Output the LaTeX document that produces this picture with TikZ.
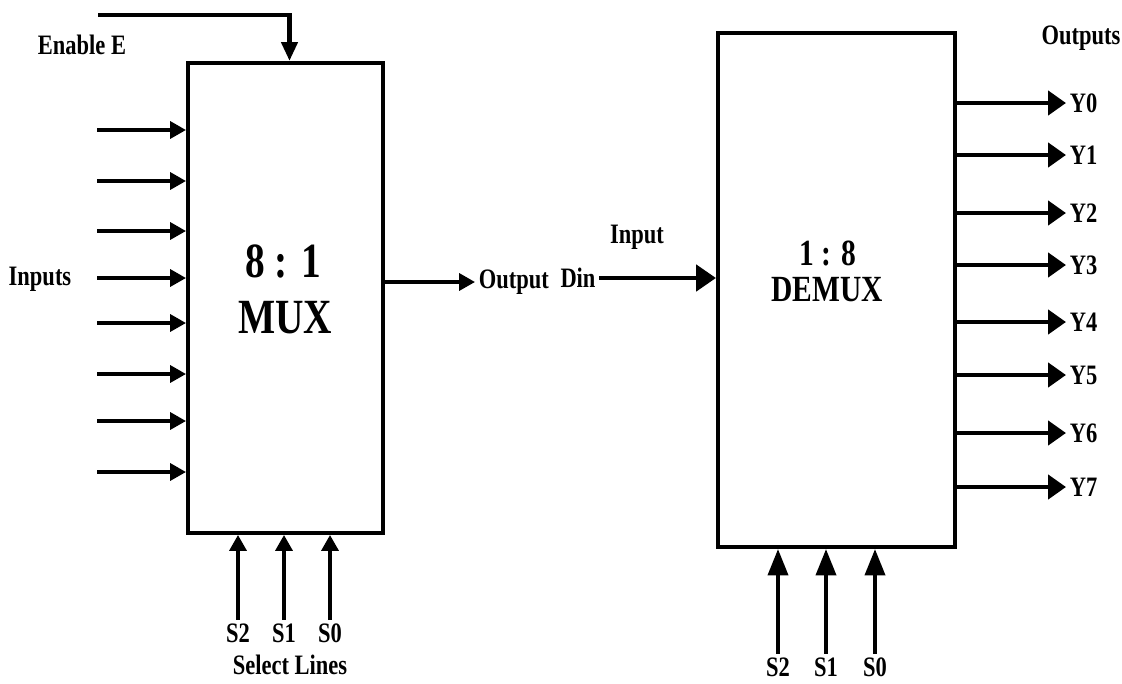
\documentclass[tikz,border=0pt]{standalone}
\usepackage{fontspec}
\setmainfont{Liberation Serif}[FakeStretch=0.8]
\usetikzlibrary{positioning,arrows.meta}
\newcommand\lblfont{\fontsize{16}{19}\selectfont\bfseries}

\begin{document}
\begin{tikzpicture}[x=0.02cm,y=-0.02cm,blk/.style={draw,line width=2.3pt,inner sep=0pt},lbl/.style={font=\lblfont,inner sep=2pt},sig/.style={line width=2pt,-{Triangle[length=9pt,width=9.6pt]}},bus/.style={line width=2.8pt,-{Triangle[length=10.2pt,width=13.6pt]}},fat/.style={line width=2.8pt,-{Triangle[length=11.3pt,width=14.7pt]}},sel/.style={line width=2.3pt,-{Triangle[length=15pt,width=11.3pt]}}]
\useasboundingbox (0,0) rectangle (1122,683);
% blocks
\node[blk,minimum width=3.9cm,minimum height=9.4cm] (mux) at (285.5,298) {};
\node[blk,minimum width=4.74cm,minimum height=10.28cm] (demux) at (836.5,290) {};
\node[font=\fontsize{28}{30}\selectfont\bfseries] (mratio) at (283,261) {8 : 1};
\node[font=\fontsize{28}{30}\selectfont\bfseries] (mname) at (285,318) {MUX};
\node[font=\fontsize{21}{24}\selectfont\bfseries] (dratio) at (828,253) {1 : 8};
\node[font=\fontsize{21}{24}\selectfont\bfseries] (dname) at (827,290) {DEMUX};
% mux side
\coordinate (en) at (98,15);
\draw[line width=2.8pt,-{Triangle[length=10.8pt,width=9pt]}] (en) -| ([xshift=0.08cm]mux.north);
\node[lbl] (enable) at (82,45) {Enable E};
\node[lbl] (inputs) at (40,279) {Inputs};
\foreach \i/\y in {0/130,1/181,2/231,3/278,4/323,5/374,6/421,7/472}{\coordinate (in\i) at (97,\y);\draw[sig] (in\i)--(in\i -| mux.west);}
\node[lbl,anchor=west] (out) at (475,282) {Output};
\draw[sig] (mux.east |- out.west)--(out.west);
\foreach \s/\x in {2/238,1/284,0/330}{\node[lbl] (ms\s) at (\x,633) {S\s};\draw[sig] (ms\s.north)--(ms\s.north |- mux.south);}
\node[lbl] (sellines) at (290,665) {Select Lines};
% demux side
\node[lbl] (din) at (578,278) {Din};
\node[lbl] (dinput) at (637,237) {Input};
\draw[fat] (din.east)--(din.east -| demux.west);
\node[lbl] (outputs) at (1081,38) {Outputs};
\foreach \i/\y in {0/103,1/155,2/213,3/265,4/322,5/375,6/433,7/487}{\node[lbl,anchor=west] (y\i) at (1066,\y) {Y\i};\draw[bus] (demux.east |- y\i.west)--(y\i.west);}
\foreach \s/\x in {2/778,1/826,0/875}{\node[lbl] (ds\s) at (\x,667) {S\s};\draw[sel] (ds\s.north)--(ds\s.north |- demux.south);}
\end{tikzpicture}
\end{document}
